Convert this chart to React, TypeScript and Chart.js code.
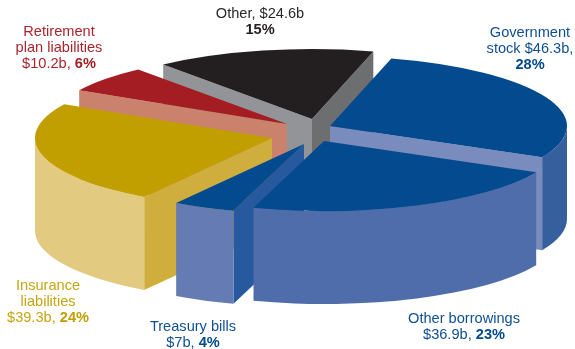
import React, { useEffect, useRef } from "react";
import { Chart, registerables } from "chart.js";

Chart.register(...registerables);

// Funding sources, $ billions
const categories = ["Government stock", "Other borrowings", "Treasury bills", "Insurance liabilities", "Retirement plan liabilities", "Other"];
const values = [46.3, 36.9, 7, 39.3, 10.2, 24.6];

// Label text per slice, one entry per line; percentages are set in bold
const labelLines = [
  ["Government", "stock $46.3b,", "28%"],
  ["Other borrowings", "$36.9b, 23%"],
  ["Treasury bills", "$7b, 4%"],
  ["Insurance", "liabilities", "$39.3b, 24%"],
  ["Retirement", "plan liabilities", "$10.2b, 6%"],
  ["Other, $24.6b", "15%"],
];
const labelAnchors = [
  [530, 37],
  [464, 323],
  [193, 331],
  [48, 290],
  [59, 36],
  [260, 18],
];
const textColors = ["#0f4f92", "#0f4f92", "#0f4f92", "#c6a411", "#a8262b", "#2b2829"];
const boldColors = ["#034a8f", "#034a8f", "#034a8f", "#c29f00", "#a41d22", "#231f20"];

const topColors = ["#034a8f", "#034a8f", "#034a8f", "#c29f00", "#a41d22", "#231f20"];
const rimColors = ["#365f9e", "#506dab", "#647bb3", "#e2ca80", "#cb826c", "#231f20"];
const startFaceColors = ["#365f9e", "#506dab", "#27599e", "#cfae3e", "#cb826c", "#929497"];
const endFaceColors = ["#7a8bbd", "#506dab", "#647bb3", "#cfae3e", "#cb826c", "#6d6e70"];

// How far each wedge is pulled out of the pie, in screen pixels
const explode = [
  [30, -6],
  [24, 9],
  [4, 12],
  [-28, 6],
  [-13, -8],
  [12, -13],
];
// Back to front
const paintOrder = [5, 4, 3, 0, 2, 1];

const PIE_X = 300;
const PIE_Y = 132;
const RADIUS = 100;
const SCALE_X = 2.37;
const SCALE_Y = 0.7;
const DEPTH = 93;
const FONT_SIZE = 14.6;
const LINE_HEIGHT = 16;
const FONT_FAMILY = '"Liberation Sans", Arial, sans-serif';

function drawWedge(ctx: CanvasRenderingContext2D, arc: any, i: number) {
  const { x, y, startAngle, endAngle, outerRadius } = arc.getProps(["x", "y", "startAngle", "endAngle", "outerRadius"], true);
  const depth = DEPTH / SCALE_Y;
  ctx.save();
  ctx.translate(PIE_X + explode[i][0], PIE_Y + explode[i][1]);
  ctx.scale(SCALE_X, SCALE_Y);
  ctx.translate(-x, -y);

  const face = (angle: number, color: string) => {
    const rx = x + Math.cos(angle) * outerRadius;
    const ry = y + Math.sin(angle) * outerRadius;
    ctx.beginPath();
    ctx.moveTo(x, y);
    ctx.lineTo(rx, ry);
    ctx.lineTo(rx, ry + depth);
    ctx.lineTo(x, y + depth);
    ctx.closePath();
    ctx.fillStyle = color;
    ctx.fill();
  };
  if (Math.cos(startAngle) < 0) face(startAngle, startFaceColors[i]);
  if (Math.cos(endAngle) > 0) face(endAngle, endFaceColors[i]);

  // Curved outer wall, only on the half of the rim that faces the viewer
  for (let k = -1; k <= 1; k++) {
    const from = Math.max(startAngle, 2 * Math.PI * k);
    const to = Math.min(endAngle, 2 * Math.PI * k + Math.PI);
    if (to <= from) continue;
    ctx.beginPath();
    ctx.arc(x, y, outerRadius, from, to);
    ctx.arc(x, y + depth, outerRadius, to, from, true);
    ctx.closePath();
    ctx.fillStyle = rimColors[i];
    ctx.fill();
  }

  arc.draw(ctx);
  ctx.restore();
}

const pie3d = {
  id: "pie3d",
  beforeDatasetDraw(chart: any) {
    const arcs = chart.getDatasetMeta(0).data;
    paintOrder.forEach((i) => drawWedge(chart.ctx, arcs[i], i));
    return false;
  },
  afterDraw(chart: any) {
    const ctx: CanvasRenderingContext2D = chart.ctx;
    ctx.save();
    ctx.textBaseline = "alphabetic";
    ctx.textAlign = "left";
    labelLines.forEach((lines, i) => {
      lines.forEach((line, l) => {
        const m = line.match(/^(.*?)(\d+%)$/);
        const plain = m ? m[1] : line;
        const bold = m ? m[2] : "";
        ctx.font = `${FONT_SIZE}px ${FONT_FAMILY}`;
        const plainW = ctx.measureText(plain).width;
        ctx.font = `bold ${FONT_SIZE}px ${FONT_FAMILY}`;
        const boldW = ctx.measureText(bold).width;
        const left = labelAnchors[i][0] - (plainW + boldW) / 2;
        const base = labelAnchors[i][1] + l * LINE_HEIGHT;
        ctx.font = `${FONT_SIZE}px ${FONT_FAMILY}`;
        ctx.fillStyle = textColors[i];
        ctx.fillText(plain, left, base);
        if (bold) {
          ctx.font = `bold ${FONT_SIZE}px ${FONT_FAMILY}`;
          ctx.fillStyle = boldColors[i];
          ctx.fillText(bold, left + plainW, base);
        }
      });
    });
    ctx.restore();
  },
};

export default function App() {
  const ref = useRef<HTMLCanvasElement>(null);
  useEffect(() => {
    const chart = new Chart(ref.current!, {
      type: "pie",
      data: {
        labels: categories,
        datasets: [{ data: values, backgroundColor: topColors, borderWidth: 0 }],
      },
      options: {
        animation: false,
        responsive: false,
        rotation: 15,
        radius: RADIUS,
        plugins: { legend: { display: false }, tooltip: { enabled: false } },
      },
      plugins: [pie3d],
    } as any);
    return () => chart.destroy();
  }, []);
  return (
    <canvas
      ref={ref}
      width={575}
      height={349}
      style={{ position: "absolute", left: 0, top: 0, display: "block" }}
    />
  );
}
